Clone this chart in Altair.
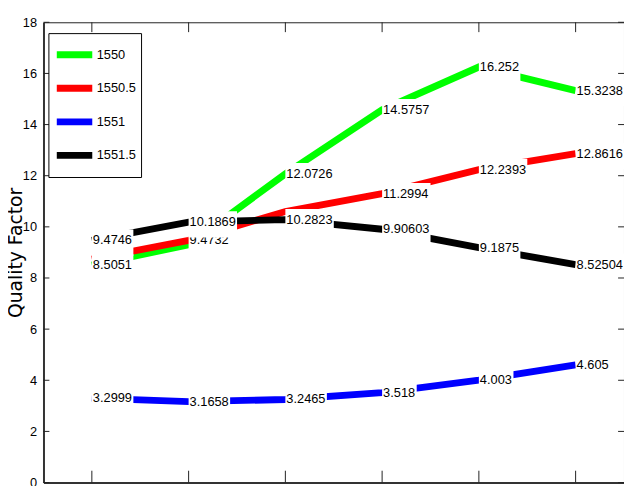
import altair as alt
import pandas as pd

# ---- data ----
x_pos = [1, 2, 3, 4, 5, 6]
series_names = ["1550", "1550.5", "1551", "1551.5"]
series_colors = ["#00ff00", "#ff0000", "#0000ff", "#000000"]

q_1550 = [8.5051, 9.30, 12.0726, 14.5757, 16.252, 15.3238]
q_1550_5 = [8.74, 9.4732, 10.60, 11.2994, 12.2393, 12.8616]
q_1551 = [3.2999, 3.1658, 3.2465, 3.518, 4.003, 4.605]
q_1551_5 = [9.4746, 10.1869, 10.2823, 9.90603, 9.1875, 8.52504]

# which point labels are visible in the reference (others are hidden behind other labels)
shown_1550 = [1, 0, 1, 1, 1, 1]
shown_1550_5 = [0, 1, 0, 1, 1, 1]
shown_1551 = [1, 1, 1, 1, 1, 1]
shown_1551_5 = [1, 1, 1, 1, 1, 1]

y_ticks = [0, 2, 4, 6, 8, 10, 12, 14, 16, 18]

values = [q_1550, q_1550_5, q_1551, q_1551_5]
shown = [shown_1550, shown_1550_5, shown_1551, shown_1551_5]

rows = []
for s, vals, sh in zip(series_names, values, shown):
    for xv, qv, fl in zip(x_pos, vals, sh):
        rows.append({"series": s, "x": xv, "q": qv, "label": f"{qv:.6g}", "shown": fl})
df = pd.DataFrame(rows)
ytick_df = pd.DataFrame({"x": [1] * len(y_ticks), "q": y_ticks})
xtick_df = pd.DataFrame({"x": x_pos, "q": [0] * len(x_pos)})

FONT = "Liberation Sans"
W, H = 589, 467

x_scale = alt.Scale(domain=[0.5, 6.5], nice=False, zero=False)
y_scale = alt.Scale(domain=[0, 18], nice=False, zero=False)

x_axis = alt.Axis(labels=False, ticks=False, grid=False, domainColor="#333",
                  domainWidth=2, title=None)
y_axis = alt.Axis(values=y_ticks, ticks=False, grid=False, labelFont=FONT,
                  labelFontSize=13, labelColor="black", labelPadding=7,
                  domainColor="#333", domainWidth=2,
                  titleFont="DejaVu Sans", titleFontSize=19, titleFontWeight="normal",
                  titleColor="black", titleX=-22, titleBaseline="alphabetic")

YT = "Quality Factor"

def X(field="x"):
    return alt.X(f"{field}:Q", scale=x_scale, axis=x_axis, title=None)

def Y(field="q"):
    return alt.Y(f"{field}:Q", scale=y_scale, axis=y_axis, title=YT)

legend = alt.Legend(orient="none", legendX=5, legendY=11, title=None,
                    symbolType="stroke", symbolStrokeWidth=7, symbolSize=1296,
                    clipHeight=34, rowPadding=0, padding=5,
                    strokeColor="black", fillColor="white",
                    labelFont=FONT, labelFontSize=13, labelColor="black",
                    labelOffset=1)
color = alt.Color("series:N", scale=alt.Scale(domain=series_names, range=series_colors),
                  legend=legend)

base = alt.Chart(df)

layers = []
# lines, drawn in series order
for s in series_names:
    layers.append(
        base.transform_filter(alt.datum.series == s)
        .mark_line(strokeWidth=7, strokeCap="butt")
        .encode(x=X(), y=Y(), color=color)
    )

# point labels with white background boxes
for s in series_names:
    lab = base.transform_filter((alt.datum.series == s) & (alt.datum.shown == 1))
    layers.append(
        lab.transform_calculate(
            xe="datum.x + length(datum.label) * 0.0715",
            yb="datum.q - 0.6",
            yt="datum.q + 0.42",
        )
        .mark_rect(fill="white")
        .encode(x=X(), x2=alt.X2("xe:Q", title=None),
                y=Y("yb"), y2=alt.Y2("yt:Q", title=None))
    )
    layers.append(
        lab.mark_text(align="left", baseline="middle", dx=1, font=FONT,
                      fontSize=13, color="black")
        .encode(x=X(), y=Y(), text="label:N")
    )

# inward ticks (MATLAB style)
ytick = alt.Chart(ytick_df)
layers.append(ytick.mark_rule(color="#222", strokeWidth=1)
              .encode(y=Y(), x=alt.value(0), x2=alt.value(6)))
layers.append(ytick.mark_rule(color="#222", strokeWidth=1)
              .encode(y=Y(), x=alt.value(W - 6), x2=alt.value(W)))
xtick = alt.Chart(xtick_df)
layers.append(xtick.mark_rule(color="#222", strokeWidth=1)
              .encode(x=X(), y=alt.value(H - 12), y2=alt.value(H)))
layers.append(xtick.mark_rule(color="#222", strokeWidth=1)
              .encode(x=X(), y=alt.value(0), y2=alt.value(10)))

chart = alt.layer(*layers).properties(
    width=W, height=H,
    autosize=alt.AutoSizeParams(type="none"),
    padding={"left": 36, "top": 11, "right": 0, "bottom": 0},
).configure_view(stroke="#222", strokeWidth=1)

chart.save("out.html", embed_options={"renderer": "svg", "actions": False})
